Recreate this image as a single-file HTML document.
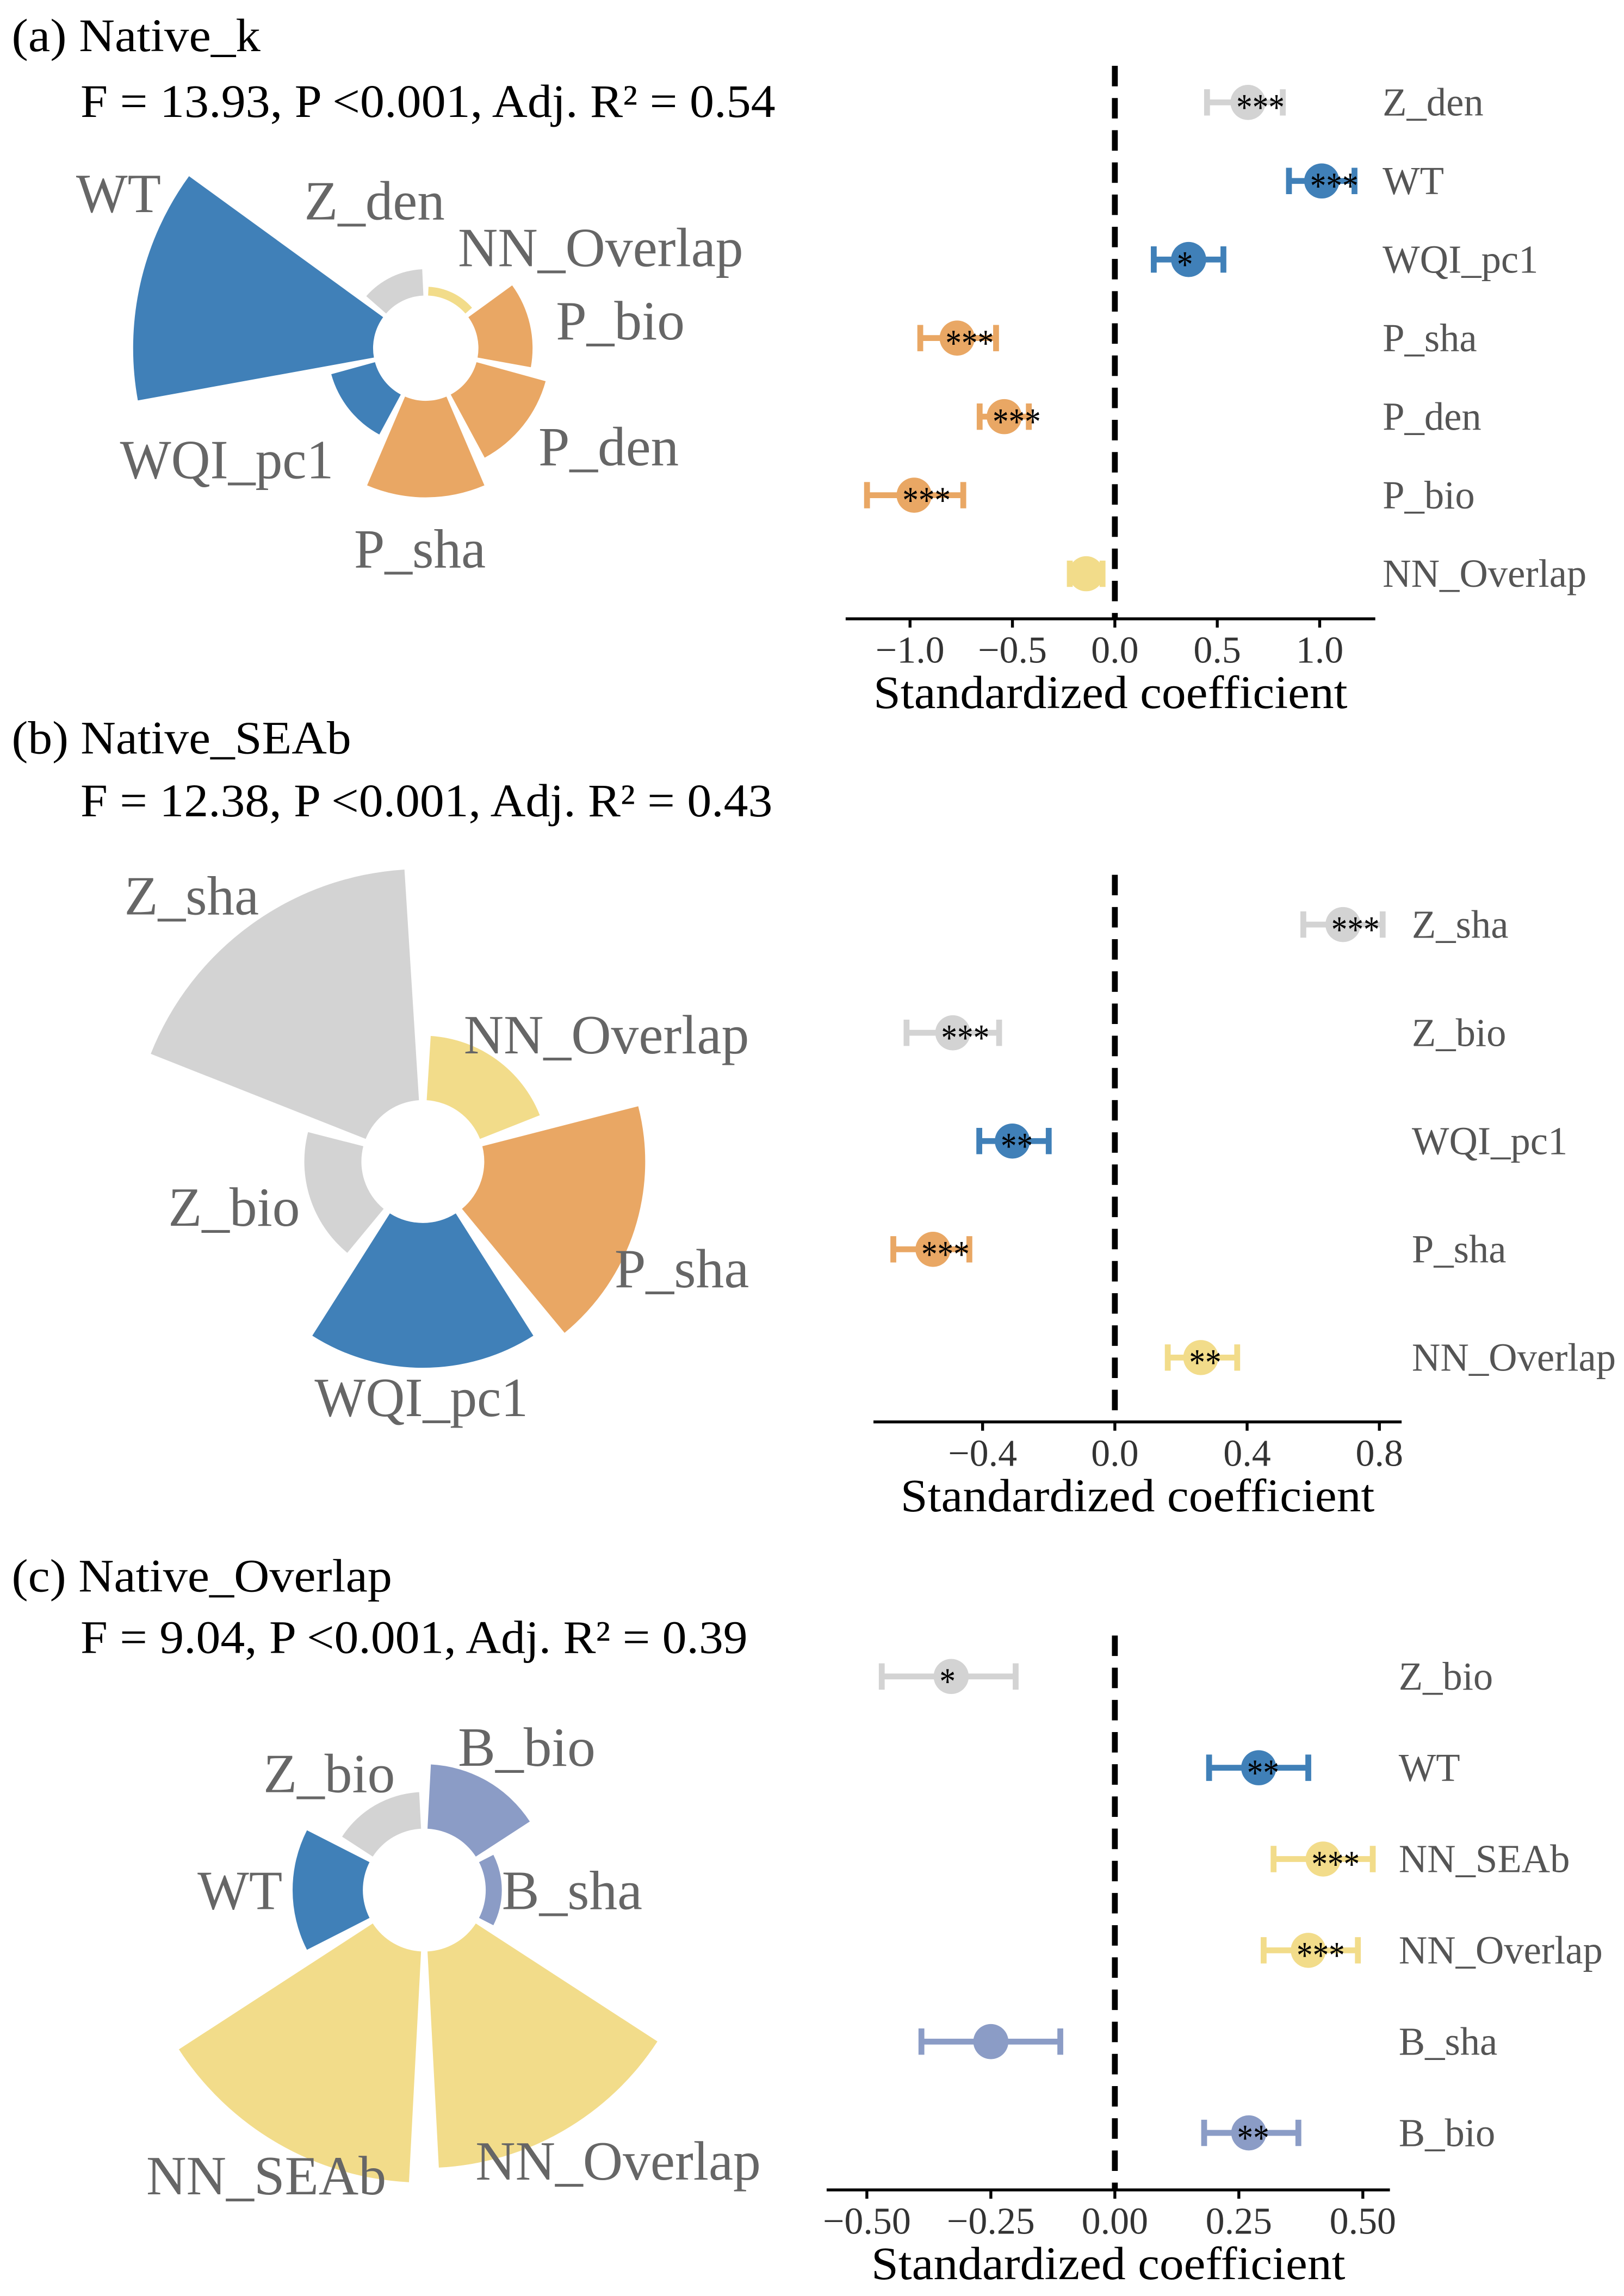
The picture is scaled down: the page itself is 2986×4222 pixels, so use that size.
<!DOCTYPE html>
<html><head><meta charset="utf-8"><style>
html,body{margin:0;padding:0;background:#fff;}
svg{display:block;}
text{font-family:"Liberation Serif","Times New Roman",serif;}
</style></head><body>
<svg id="fig" xmlns="http://www.w3.org/2000/svg" width="2986" height="4222" viewBox="0 0 1110 1569.5" preserveAspectRatio="none">
<rect x="0" y="0" width="1110" height="1569.5" fill="#fff"/>
<g id="root"></g>
</svg>
<script>
// ---------- Panel A data ----------
const aRoseLabels = ["NN_Overlap","P_bio","P_den","P_sha","WQI_pc1","WT","Z_den"];
const aRoseImportance = [6,37,49,66,31,164,18];
const aRoseColors = ["#f2dc8a","#e9a764","#e9a764","#e9a764","#4080b8","#4080b8","#d3d3d3"];
const aForestLabels = ["Z_den","WT","WQI_pc1","P_sha","P_den","P_bio","NN_Overlap"];
const aCoef = [0.65,1.01,0.36,-0.77,-0.54,-0.98,-0.14];
const aLo = [0.45,0.85,0.19,-0.95,-0.66,-1.21,-0.22];
const aHi = [0.82,1.17,0.53,-0.58,-0.42,-0.74,-0.06];
const aStars = ["***","***","*","***","***","***",""];
const aColors = ["#d3d3d3","#4080b8","#4080b8","#e9a764","#e9a764","#e9a764","#f2dc8a"];
const aTicks = [-1,-0.5,0,0.5,1];
const aTickLabels = ["\u22121.0","\u22120.5","0.0","0.5","1.0"];

// ---------- Panel B data ----------
const bRoseLabels = ["NN_Overlap","P_sha","WQI_pc1","Z_bio","Z_sha"];
const bRoseImportance = [44,110,99,39,158];
const bRoseColors = ["#f2dc8a","#e9a764","#4080b8","#d3d3d3","#d3d3d3"];
const bForestLabels = ["Z_sha","Z_bio","WQI_pc1","P_sha","NN_Overlap"];
const bCoef = [0.69,-0.49,-0.31,-0.55,0.26];
const bLo = [0.57,-0.63,-0.41,-0.67,0.16];
const bHi = [0.81,-0.35,-0.20,-0.44,0.37];
const bStars = ["***","***","**","***","**"];
const bColors = ["#d3d3d3","#d3d3d3","#4080b8","#e9a764","#f2dc8a"];
const bTicks = [-0.4,0,0.4,0.8];
const bTickLabels = ["\u22120.4","0.0","0.4","0.8"];

// ---------- Panel C data ----------
const cRoseLabels = ["B_bio","B_sha","NN_Overlap","NN_SEAb","WT","Z_bio"];
const cRoseImportance = [44,11,148,158,48,25];
const cRoseColors = ["#8b9cc6","#8b9cc6","#f2dc8a","#f2dc8a","#4080b8","#d3d3d3"];
const cForestLabels = ["Z_bio","WT","NN_SEAb","NN_Overlap","B_sha","B_bio"];
const cCoef = [-0.33,0.29,0.42,0.39,-0.25,0.27];
const cLo = [-0.47,0.19,0.32,0.30,-0.39,0.18];
const cHi = [-0.20,0.39,0.52,0.49,-0.11,0.37];
const cStars = ["*","**","***","***","","**"];
const cColors = ["#d3d3d3","#4080b8","#f2dc8a","#f2dc8a","#8b9cc6","#8b9cc6"];
const cTicks = [-0.5,-0.25,0,0.25,0.5];
const cTickLabels = ["\u22120.50","\u22120.25","0.00","0.25","0.50"];

const NS="http://www.w3.org/2000/svg";
const root=document.getElementById('root');
function mk(tag,attrs,parent){const e=document.createElementNS(NS,tag);for(const k in attrs)e.setAttribute(k,attrs[k]);(parent||root).appendChild(e);return e;}
function txt(s,x,y,size,fill,len,parent,anchor){const t=mk('text',{x:x,y:y,'font-size':size,fill:fill},parent);if(len){t.setAttribute('textLength',len);t.setAttribute('lengthAdjust','spacingAndGlyphs');}if(anchor)t.setAttribute('text-anchor',anchor);t.textContent=s;return t;}

function header(title,stat,y1,y2,len1,len2){
  const t1=txt(title,8,y1,32,'#000',len1);
  
  
  const t2=txt(stat,55,y2,32,'#000',len2);
  
  
}

function rose(cx,cy,r0,imp,cols,names){
  const g=mk('g',{});
  
  
  const n=imp.length, step=360/n, gap=step*0.05;
  for(let i=0;i<n;i++){
    const a0=(i*step+gap)*Math.PI/180, a1=((i+1)*step-gap)*Math.PI/180;
    const R=r0+imp[i];
    const p=(r,a)=>[cx+r*Math.sin(a),cy-r*Math.cos(a)];
    const [x0,y0]=p(r0,a0),[x1,y1]=p(R,a0),[x2,y2]=p(R,a1),[x3,y3]=p(r0,a1);
    const d=`M${x0},${y0} L${x1},${y1} A${R},${R} 0 0 1 ${x2},${y2} L${x3},${y3} A${r0},${r0} 0 0 0 ${x0},${y0} Z`;
    const s=mk('path',{d:d,fill:cols[i]},g);
    
    
  }
}

function roseLabels(list){
  list.forEach(l=>{
    const t=txt(l[0],l[1],l[2],38,'#666',l[3]);
    
    
  });
}

function forest(o){
  const g=mk('g',{});
  
  
  const X=v=>o.zero+v*o.scale;
  const dl=mk('line',{x1:X(0),x2:X(0),y1:o.dashTop,y2:o.axisY,stroke:'#000','stroke-width':4,'stroke-dasharray':'14 8'},g);
  
  
  const ax=mk('line',{x1:o.ax0,x2:o.ax1,y1:o.axisY,y2:o.axisY,stroke:'#000','stroke-width':2},g);
  
  
  o.ticks.forEach((t,i)=>{
    mk('line',{x1:X(t),x2:X(t),y1:o.axisY,y2:o.axisY+6,stroke:'#000','stroke-width':2},g);
    const tl=txt(o.tickLabels[i],X(t),o.axisY+30,26,'#333',null,g,'middle');
    
    
  });
  const at=txt('Standardized coefficient',(o.ax0+o.ax1)/2,o.axisY+61,32,'#000',324,g,'middle');
  
  
  o.labels.forEach((lab,i)=>{
    const y=o.row0+i*o.rowStep;
    const eb=mk('g',{stroke:o.colors[i],'stroke-width':4},g);
    
    
    mk('line',{x1:X(o.lo[i]),x2:X(o.hi[i]),y1:y,y2:y},eb);
    mk('line',{x1:X(o.lo[i]),x2:X(o.lo[i]),y1:y-9,y2:y+9},eb);
    mk('line',{x1:X(o.hi[i]),x2:X(o.hi[i]),y1:y-9,y2:y+9},eb);
    const c=mk('circle',{cx:X(o.coef[i]),cy:y,r:12,fill:o.colors[i]},g);
    
    
    if(o.stars[i]){
      const s=txt(o.stars[i],X(o.coef[i])-8,y+12,26,'#000',o.stars[i].length*11,g);
      
      
    }
    const l=txt(lab,o.labelX,y+9,27,'#555',null,g);
    
    
  });
}

// Panel A
header('(a) Native_k','F = 13.93, P <0.001, Adj. R\u00b2 = 0.54',35,80,170,475);
rose(291,238,36,aRoseImportance,aRoseColors,aRoseLabels);
roseLabels([['WT',52,145,58],['Z_den',208,150,96],['NN_Overlap',313,182,195],['P_bio',380,232,88],['P_den',368,318,96],['WQI_pc1',82,327,146],['P_sha',242,388,90]]);
forest({zero:762,scale:140,ax0:578,ax1:940,axisY:423,dashTop:45,row0:70,rowStep:53.7,labelX:945,
  ticks:aTicks,tickLabels:aTickLabels,labels:aForestLabels,coef:aCoef,lo:aLo,hi:aHi,stars:aStars,colors:aColors});

// Panel B
header('(b) Native_SEAb','F = 12.38, P <0.001, Adj. R\u00b2 = 0.43',515,558,232,473);
rose(289,794,42,bRoseImportance,bRoseColors,bRoseLabels);
roseLabels([['Z_sha',85,625,92],['NN_Overlap',317,720,195],['Z_bio',115,838,90],['P_sha',420,880,92],['WQI_pc1',215,968,146]]);
forest({zero:762,scale:226,ax0:597,ax1:958,axisY:972,dashTop:598,row0:632,rowStep:74,labelX:965,
  ticks:bTicks,tickLabels:bTickLabels,labels:bForestLabels,coef:bCoef,lo:bLo,hi:bHi,stars:bStars,colors:bColors});

// Panel C
header('(c) Native_Overlap','F = 9.04, P <0.001, Adj. R\u00b2 = 0.39',1088,1130,260,456);
rose(290,1292,42,cRoseImportance,cRoseColors,cRoseLabels);
roseLabels([['Z_bio',180,1225,90],['B_bio',313,1207,94],['WT',135,1305,58],['B_sha',343,1305,96],['NN_SEAb',100,1500,164],['NN_Overlap',325,1490,195]]);
forest({zero:762,scale:339,ax0:565,ax1:950,axisY:1497,dashTop:1118,row0:1146,rowStep:62.4,labelX:956,
  ticks:cTicks,tickLabels:cTickLabels,labels:cForestLabels,coef:cCoef,lo:cLo,hi:cHi,stars:cStars,colors:cColors});
</script>
</body></html>
